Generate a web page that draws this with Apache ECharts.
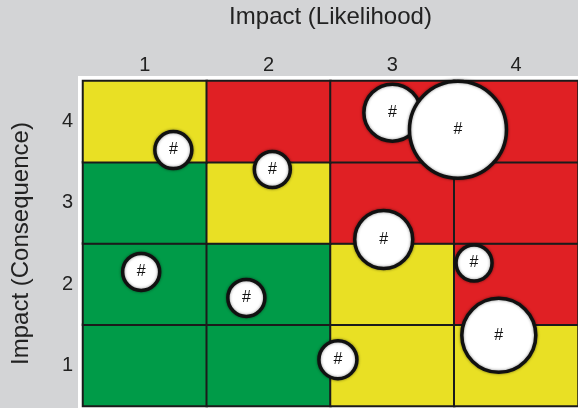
<!DOCTYPE html>
<html>
<head>
<meta charset="utf-8">
<script src="https://cdn.jsdelivr.net/npm/echarts@6/dist/echarts.min.js"></script>
<style>
  html, body { margin: 0; padding: 0; background: #d3d4d6; }
  #chart { width: 578px; height: 408px; }
</style>
</head>
<body>
<div id="chart"></div>
<script>
// Axis categories (likelihood across, consequence up)
const likelihoodLabels = ['1', '2', '3', '4'];
const consequenceLabels = ['1', '2', '3', '4'];

// Risk level per cell, one row per consequence level (bottom row first):
// 0 = low (green), 1 = medium (yellow), 2 = high (red)
const riskRow1 = [0, 0, 1, 1];
const riskRow2 = [0, 0, 1, 2];
const riskRow3 = [0, 1, 2, 2];
const riskRow4 = [1, 2, 2, 2];

// Individual risks plotted as bubbles
const riskLikelihood  = [1.23, 2.03, 3.00, 3.53, 2.93, 0.97, 1.82, 3.66, 3.86, 2.56];
const riskConsequence = [3.65, 3.41, 4.11, 3.90, 2.55, 2.15, 1.83, 2.26, 1.37, 1.07];
const riskSize        = [37, 36, 57, 97, 58, 37, 37, 36, 74, 38];
const riskTag         = ['#', '#', '#', '#', '#', '#', '#', '#', '#', '#'];

const riskRows = [riskRow1, riskRow2, riskRow3, riskRow4];
const cellData = [];
riskRows.forEach((row, yi) => row.forEach((lvl, xi) => cellData.push([xi, yi, lvl])));

const bubbleData = riskLikelihood.map((x, i) => ({
  value: [x, riskConsequence[i], riskSize[i]],
  label: { formatter: riskTag[i] }
}));

const FONT = '"Liberation Sans", Arial, Helvetica, sans-serif';
const chart = echarts.init(document.getElementById('chart'), null, { renderer: 'canvas' });

chart.setOption({
  backgroundColor: '#d3d4d6',
  animation: false,
  grid: {
    left: 83, top: 80, width: 497, height: 326,
    show: true, backgroundColor: '#ffffff', borderColor: '#ffffff', borderWidth: 10
  },
  visualMap: {
    show: false, type: 'piecewise', seriesIndex: 0, dimension: 2,
    pieces: [
      { value: 0, color: '#009b48' },
      { value: 1, color: '#e9e024' },
      { value: 2, color: '#e02024' }
    ]
  },
  xAxis: [
    {
      type: 'category', data: likelihoodLabels, position: 'top',
      axisLine: { show: false }, axisTick: { show: false }, splitLine: { show: false },
      axisLabel: { fontSize: 20, color: '#222', margin: 6, fontFamily: FONT },
      name: 'Impact (Likelihood)', nameLocation: 'middle', nameGap: 52,
      nameTextStyle: { fontSize: 24, color: '#222', fontFamily: FONT }
    },
    { type: 'value', min: 0.5, max: 4.5, show: false }
  ],
  yAxis: [
    {
      type: 'category', data: consequenceLabels,
      axisLine: { show: false }, axisTick: { show: false }, splitLine: { show: false },
      axisLabel: { fontSize: 20, color: '#222', margin: 10, fontFamily: FONT },
      name: 'Impact (Consequence)', nameLocation: 'middle', nameGap: 50,
      nameTextStyle: { fontSize: 24, color: '#222', fontFamily: FONT }
    },
    { type: 'value', min: 0.5, max: 4.5, show: false }
  ],
  series: [
    {
      type: 'heatmap', xAxisIndex: 0, yAxisIndex: 0, data: cellData,
      itemStyle: { borderColor: '#1b1b1b', borderWidth: 2 },
      emphasis: { disabled: true }
    },
    {
      type: 'scatter', xAxisIndex: 1, yAxisIndex: 1, z: 5,
      data: bubbleData,
      symbolSize: v => v[2],
      itemStyle: {
        color: '#ffffff', borderColor: '#111111', borderWidth: 3.5, opacity: 1,
        shadowBlur: 3, shadowColor: 'rgba(0,0,0,0.45)'
      },
      label: {
        show: true, position: 'inside', color: '#111', fontSize: 16, fontFamily: FONT
      },
      emphasis: { disabled: true }
    }
  ]
});
</script>
</body>
</html>
